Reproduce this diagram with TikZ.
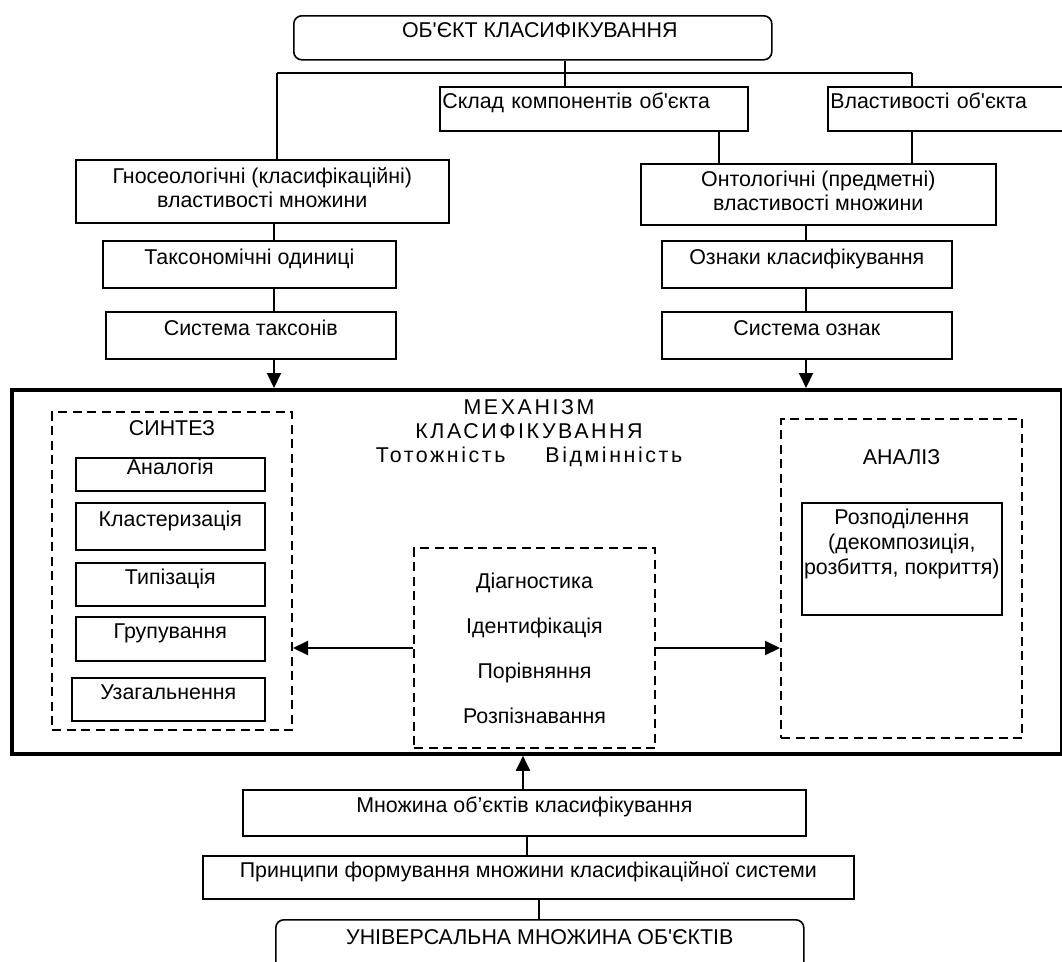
\documentclass[tikz,border=0pt]{standalone}
\usepackage{fontspec}
\setmainfont{Liberation Sans}
\newfontfamily\spacedfont[LetterSpace=12]{Liberation Sans}
\usetikzlibrary{arrows.meta}

\tikzset{
  solidbox/.style={draw, line width=1.6pt, rectangle, anchor=north west, inner sep=1pt, text height=8pt, text depth=8pt},
  twobox/.style={draw, line width=1.6pt, rectangle, anchor=north west, inner sep=1pt, align=center, text height=40pt, text depth=8pt},
  roundbox/.style={solidbox, rounded corners=8pt},
  dashbox/.style={draw, line width=2pt, dash pattern=on 9pt off 5.5pt, rectangle, anchor=north west, inner sep=0pt},
  link/.style={line width=2pt}
}

\begin{document}
\begin{tikzpicture}[x=1pt, y=-1pt, font=\fontsize{21.4pt}{24pt}\selectfont, >={Triangle[length=15pt, width=14pt]}]
        \useasboundingbox (0,0) rectangle (1062,961);
        \clip (0,0) rectangle (1062,961);
        \node[roundbox, minimum width=478pt, minimum height=44pt] (obj) at (293,15) {\hspace*{14pt}ОБ\textquotesingle ЄКТ КЛАСИФІКУВАННЯ};
        \node[solidbox, minimum width=308pt, minimum height=44pt, text width=303pt, align=left, inner xsep=2pt] (skl) at (439,86) {Склад компонентів об\textquotesingle єкта};
        \node[solidbox, minimum width=250pt, minimum height=44pt, text width=245pt, align=left, inner xsep=2pt] (vlast) at (827,86) {Властивості об\textquotesingle єкта};
        \node[twobox, minimum width=373pt, minimum height=63pt] (gnos) at (75,159) {Гносеологічні (класифікаційні)\\властивості множини};
        \node[solidbox, minimum width=293pt, minimum height=47pt] (tax) at (102,240) {Таксономічні одиниці};
        \node[solidbox, minimum width=290pt, minimum height=47pt] (taxsys) at (105,311) {Система таксонів};
        \node[twobox, minimum width=355pt, minimum height=61pt] (ont) at (640,163) {Онтологічні (предметні)\\властивості множини};
        \node[solidbox, minimum width=290pt, minimum height=47pt] (ozn) at (661,240) {Ознаки класифікування};
        \node[solidbox, minimum width=290pt, minimum height=47pt] (oznsys) at (661,311) {Система ознак};

        \node[draw, line width=3.8pt, rectangle, anchor=north west, minimum width=1050pt, minimum height=364pt] (mechbox) at (10,388) {};
        \node[align=center, font=\spacedfont\fontsize{21.4pt}{24pt}\selectfont] (mechtitle) at (529,433) {МЕХАНІЗМ\\КЛАСИФІКУВАННЯ\\Тотожність\hspace{40pt}Відмінність};
        \node[dashbox, minimum width=240pt, minimum height=318pt, label={[anchor=north, yshift=-9pt, inner sep=0pt]north:СИНТЕЗ}] (synth) at (51,411) {};
        \node[solidbox, minimum width=189pt, minimum height=33pt] (analog) at (75,457) {Аналогія};
        \node[solidbox, minimum width=189pt, minimum height=47pt] (cluster) at (75,502) {Кластеризація};
        \node[solidbox, minimum width=189pt, minimum height=43pt] (typ) at (75,562) {Типізація};
        \node[solidbox, minimum width=189pt, minimum height=44pt] (group) at (75,616) {Групування};
        \node[solidbox, minimum width=193pt, minimum height=43pt] (general) at (71,677) {Узагальнення};
        \node[dashbox, minimum width=241pt, minimum height=200pt, align=center, font=\fontsize{21.4pt}{45pt}\selectfont] (diag) at (413,547) {Діагностика\\Ідентифікація\\Порівняння\\Розпізнавання};
        \node[dashbox, minimum width=241pt, minimum height=319pt, label={[anchor=north, yshift=-31pt, inner sep=0pt]north:АНАЛІЗ}] (anal) at (780,418) {};
        \node[draw, line width=1.6pt, rectangle, anchor=north west, minimum width=200pt, minimum height=112pt, label={[anchor=north, yshift=-7pt, inner sep=0pt, align=center, font=\fontsize{21.4pt}{25pt}\selectfont]north:{Розподілення\\(декомпозиція,\\розбиття, покриття)}}] (rozp) at (801,502) {};

        \node[solidbox, minimum width=563pt, minimum height=46pt] (mnoz) at (242,789) {Множина об’єктів класифікування};
        \node[solidbox, minimum width=651pt, minimum height=43pt] (princ) at (202,855) {Принципи формування множини класифікаційної системи};
        \node[roundbox, minimum width=528pt, minimum height=50pt] (univ) at (275,919) {УНІВЕРСАЛЬНА МНОЖИНА ОБ\textquotesingle ЄКТІВ};

        \coordinate (fork) at (565,73);
        \coordinate (lfork) at (277,73);
        \coordinate (rfork) at (912,73);
        \coordinate (sklout) at (719,0);
        \coordinate (lcol) at (274,0);
        \coordinate (rcol) at (806,0);
        \coordinate (bcol) at (523,0);
        \coordinate (pcol) at (527,0);
        \coordinate (ucol) at (539,0);
        \draw[link] (obj.south -| fork) -- (fork);
        \draw[link] (lfork) -- (rfork);
        \draw[link] (fork) -- (fork |- skl.north);
        \draw[link] (lfork) -- (lfork |- gnos.north);
        \draw[link] (rfork) -- (rfork |- vlast.north);
        \draw[link] (vlast.south -| rfork) -- (rfork |- ont.north);
        \draw[link] (skl.south -| sklout) -- (sklout |- ont.north);
        \draw[link] (gnos.south -| lcol) -- (lcol |- tax.north);
        \draw[link] (tax.south -| lcol) -- (lcol |- taxsys.north);
        \draw[link, ->] (taxsys.south -| lcol) -- (lcol |- mechbox.north);
        \draw[link] (ont.south -| rcol) -- (rcol |- ozn.north);
        \draw[link] (ozn.south -| rcol) -- (rcol |- oznsys.north);
        \draw[link, ->] (oznsys.south -| rcol) -- (rcol |- mechbox.north);
        \draw[link, ->] (diag.west) -- (diag.west -| synth.east);
        \draw[link, ->] (diag.east) -- (diag.east -| anal.west);
        \draw[link, ->] (mnoz.north -| bcol) -- (bcol |- mechbox.south);
        \draw[link] (mnoz.south -| pcol) -- (pcol |- princ.north);
        \draw[link] (princ.south -| ucol) -- (ucol |- univ.north);
\end{tikzpicture}
\end{document}
